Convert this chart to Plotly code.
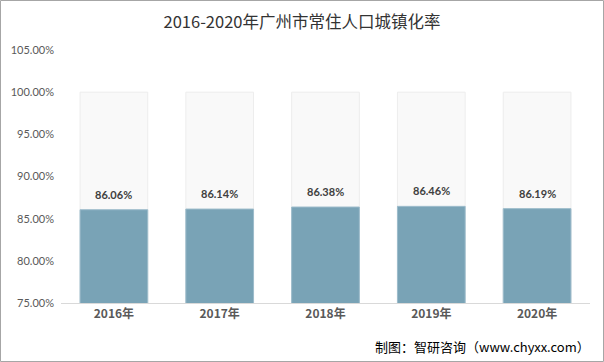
import plotly.graph_objects as go

years = ["2016年", "2017年", "2018年", "2019年", "2020年"]
rates = [86.06, 86.14, 86.38, 86.46, 86.19]
full = [100, 100, 100, 100, 100]
tick_vals = [75, 80, 85, 90, 95, 100, 105]

W, H = 604, 362
ml, mr, mt, mb = 61, 14, 50, 59
pw, ph = W - ml - mr, H - mt - mb

fig = go.Figure()
fig.add_trace(go.Bar(
    x=years, y=full, marker=dict(color="rgba(248,248,248,0.8)", line=dict(color="#ededed", width=1)),
    width=0.64, hoverinfo="skip", showlegend=False,
))
fig.add_trace(go.Bar(
    x=years, y=rates, marker=dict(color="#79a3b6", line=dict(color="#9dbccb", width=1)),
    width=0.64, showlegend=False,
))

label_annots = [dict(x=yr, y=v, xref="x", yref="y", text=f"{v:.2f}%", showarrow=False,
                     yanchor="bottom", yshift=7,
                     font=dict(size=11, color="#404040", family="Lato, 'Noto Sans CJK SC', sans-serif", weight="bold"))
                for yr, v in zip(years, rates)]

fig.update_layout(
    width=W, height=H, barmode="overlay",
    margin=dict(l=ml, r=mr, t=mt, b=mb),
    paper_bgcolor="white", plot_bgcolor="white",
    font=dict(family="'Noto Sans CJK SC', sans-serif"),
    title=dict(text="2016-2020年广州市常住人口城镇化率", x=0.5, xanchor="center", y=1 - 22 / H, yanchor="middle",
               font=dict(size=16.5, color="#333333", family="'Noto Sans CJK SC', sans-serif")),
    xaxis=dict(showline=True, linecolor="#d9d9d9", linewidth=1, ticks="",
               tickfont=dict(size=12, color="#595959", family="'Noto Sans CJK SC', sans-serif", weight="bold")),
    yaxis=dict(range=[75, 105], tickvals=tick_vals, ticktext=[f"{v:.2f}%" for v in tick_vals],
               showgrid=False, zeroline=False, ticks="", ticklabelstandoff=6,
               tickfont=dict(size=11, color="#595959", family="Lato, 'Noto Sans CJK SC', sans-serif")),
    shapes=[dict(type="rect", xref="paper", yref="paper",
                 x0=(-ml + 0.5) / pw, x1=(pw + mr - 0.5) / pw,
                 y0=(-mb + 0.5) / ph, y1=(ph + mt - 0.5) / ph,
                 line=dict(color="#a6a6a6", width=1))],
    annotations=label_annots + [dict(text="制图：智研咨询（www.chyxx.com）", xref="paper", yref="paper",
                      x=(pw + 2) / pw, y=-(347 - (mt + ph)) / ph, xanchor="right", yanchor="middle",
                      showarrow=False, font=dict(size=13, color="#000000", family="'Noto Sans CJK SC', sans-serif"))],
)

fig.write_html("out.html", config={"displayModeBar": False},
               post_script="document.body.style.margin='0';document.body.style.padding='0';")
